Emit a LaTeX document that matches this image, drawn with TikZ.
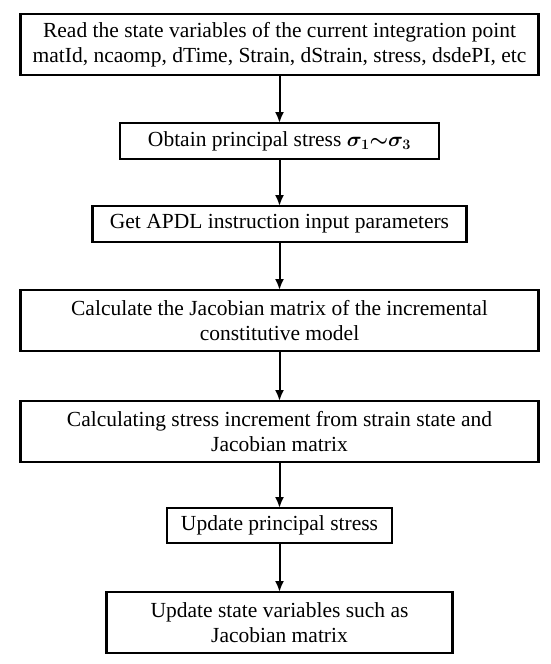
\documentclass[tikz,border=0pt]{standalone}
\usepackage{amsmath}
\usepackage{amssymb}
\usepackage{fontspec}
\setmainfont{Liberation Serif}
\usetikzlibrary{arrows.meta,positioning}
\tikzset{
block/.style = {draw, fill=white, rectangle, line width=2.6pt, outer sep=0pt, align=center, inner sep=0pt, minimum height=36pt, font=\fontsize{21.5}{25.5}\selectfont},
wide/.style  = {block, minimum width=518pt, minimum height=61pt},
flow/.style  = {->, line width=2pt}
}

\begin{document}
\begin{tikzpicture}[x=1pt, y=1pt, node distance=48pt, >={Latex[length=11pt,width=9pt]}]
  \useasboundingbox (0,0) rectangle (550,-664);
  \node [wide] (readvars) at (279.5,-44.5) {Read the state variables of the current integration point\\matId, ncaomp, dTime, Strain, dStrain, stress, dsdePI, etc};
  \node [block, below=of readvars, minimum width=319pt]  (principal) {Obtain principal stress $\boldsymbol{\sigma_1{\sim}\sigma_3}$};
  \node [block, below=47pt of principal, minimum width=374pt] (apdl) {Get APDL instruction input parameters};
  \node [wide, below=of apdl]                              (jacobian) {Calculate the Jacobian matrix of the incremental\\constitutive model};
  \node [wide, below=50pt of jacobian]                     (increment) {Calculating stress increment from strain state and\\Jacobian matrix};
  \node [block, below=46pt of increment, minimum width=225pt, minimum height=35pt] (update) {Update principal stress};
  \node [block, below=49pt of update, minimum width=346pt, minimum height=61pt]    (statevars) {Update state variables such as\\Jacobian matrix};

  \draw [flow] (readvars) -- (principal);
  \draw [flow] (principal) -- (apdl);
  \draw [flow] (apdl) -- (jacobian);
  \draw [flow] (jacobian) -- (increment);
  \draw [flow] (increment) -- (update);
  \draw [flow] (update) -- (statevars);
\end{tikzpicture}
\end{document}
